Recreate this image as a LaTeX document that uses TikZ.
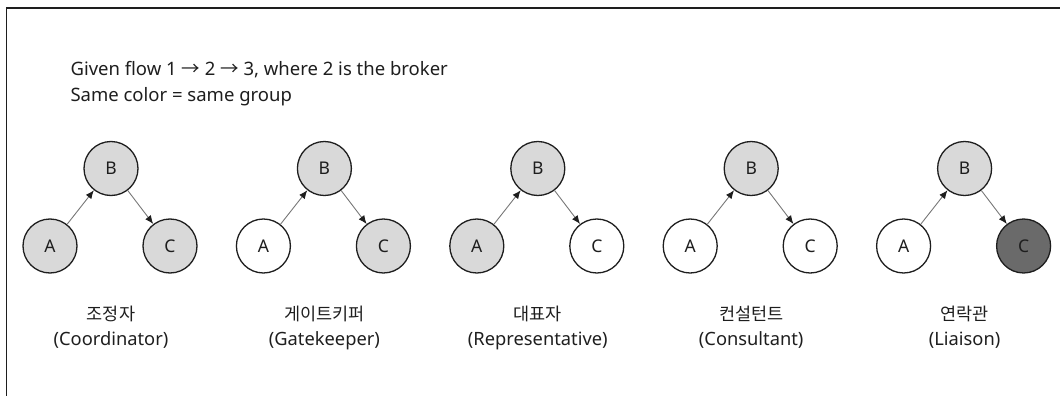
\documentclass[tikz,border=0pt]{standalone}
\usepackage{fontspec}
\setmainfont{Noto Sans}
\newfontfamily\kofont{Noto Sans CJK KR}
\usetikzlibrary{arrows.meta}

\definecolor{grp}{HTML}{D9D9D9}
\definecolor{dark}{HTML}{6A6A6A}
\definecolor{edge}{HTML}{777777}
\definecolor{ink}{HTML}{1E1E1E}

\tikzset{
  actor/.style={circle, draw=ink, line width=1.3pt, minimum size=54pt, inner sep=0pt,
    text=ink, font=\fontsize{17.5}{20}\selectfont},
  flow/.style={draw=edge, line width=0.9pt, -{Latex[length=8.5pt,width=7pt,color=ink]}},
  role/.style={anchor=base, text=ink, font=\fontsize{18.3}{20}\selectfont},
  note/.style={anchor=base west, text=ink, font=\fontsize{18.5}{20}\selectfont}
}

\begin{document}
\begin{tikzpicture}[x=1pt, y=-1pt]
\useasboundingbox (0,0) rectangle (1060,396);
% frame
\draw[line width=1.5pt, ink] (1060,8) -- (6.5,8) -- (6.5,396);
\node[note] (given) at (67,75.5) {Given flow 1 {\kofont →} 2 {\kofont →} 3, where 2 is the broker};
\node[note] (same) at (67,101.5) {Same color = same group};
% five broker roles: fill of A and C
\foreach \i/\fa/\fc/\ko/\en in {0/grp/grp/조정자/Coordinator, 1/white/grp/게이트키퍼/Gatekeeper,
    2/grp/white/대표자/Representative, 3/white/white/컨설턴트/Consultant, 4/white/dark/연락관/Liaison} {
  \node[actor, fill=grp] (b\i) at (111+213.4*\i, 168.5) {B};
  \node[actor, fill=\fa] (a\i) at (50+213.4*\i, 246) {A};
  \node[actor, fill=\fc] (c\i) at (170+213.4*\i, 246) {C};
  \draw[flow] (a\i) -- (b\i);
  \draw[flow] (b\i) -- (c\i);
  \node[role] (ko\i) at (111+213.4*\i, 320.5) {\fontsize{17.5}{20}\kofont\ko};
  \node[role] (en\i) at (111+213.4*\i, 345.5) {(\en)};
}
\end{tikzpicture}
\end{document}
